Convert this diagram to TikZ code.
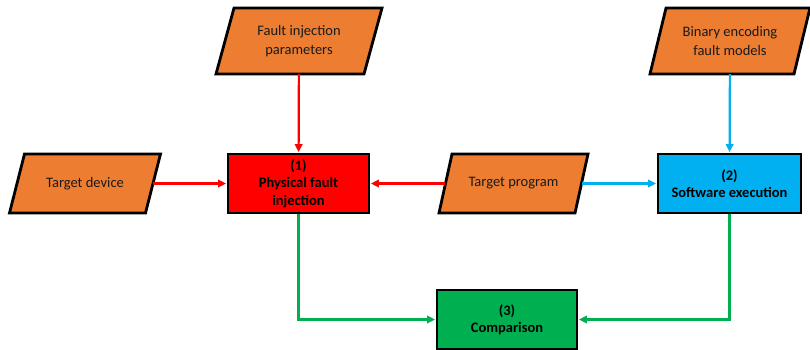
\documentclass[tikz,border=0pt]{standalone}
\usepackage{fontspec}
\setmainfont{Carlito}
\usetikzlibrary{arrows.meta}
\definecolor{orng}{HTML}{ED7D31}
\definecolor{redf}{HTML}{FF0000}
\definecolor{bluef}{HTML}{00B0F0}
\definecolor{greenf}{HTML}{00B050}
\definecolor{txt}{HTML}{1A1A1A}
\newcommand\parabox[7]{%
  \filldraw[paraline] (#2-#4/2+#6, #3-#5/2) -- ++(#4,0) -- (#2+#4/2-#6, #3+#5/2) -- ++(-#4,0) -- cycle;
  \node[paratext, minimum width=#4pt, minimum height=#5pt] (#1) at (#2,#3) {#7};
}
\begin{document}
\begin{tikzpicture}[x=1pt,y=-1pt,
  paraline/.style={fill=orng, draw=black, line width=2.8pt, line join=miter},
  paratext/.style={draw=none, inner sep=0pt, align=center, text=txt,
    font=\fontsize{14.5}{18.5}\selectfont},
  procbox/.style={draw=black, line width=2.8pt, inner sep=0pt, align=center,
    minimum width=141pt, minimum height=59pt, text=black,
    font=\bfseries\fontsize{14.5}{17.5}\selectfont},
  conn/.style={line width=2.2pt, -{Triangle[length=8pt,width=7.5pt]}, shorten >=0.5pt},
]
\useasboundingbox (0,0) rectangle (810,349);
\parabox{fip}{299}{41}{148}{66}{9}{Fault injection\\parameters}
\parabox{bef}{730}{41}{144}{66}{8}{Binary encoding\\fault models}
\parabox{td}{85}{183.5}{136}{59}{7.5}{Target device}
\parabox{tp}{513.5}{183.5}{136}{59}{6.5}{Target program}
\node[procbox, fill=redf] (phys) at (298.5,183.5) {(1)\\Physical fault\\injection};
\node[procbox, fill=bluef, minimum width=143pt] (sw) at (729.5,183.5) {(2)\\Software execution};
\node[procbox, fill=greenf, minimum width=140pt] (cmp) at (507,319.5) {(3)\\Comparison};
\draw[conn, draw=redf] (fip) -- (phys);
\draw[conn, draw=redf] (td) -- (phys);
\draw[conn, draw=redf] (tp) -- (phys);
\draw[conn, draw=bluef] (tp) -- (sw);
\draw[conn, draw=bluef] (bef) -- (sw);
\draw[conn, draw=greenf] (phys.south) |- (cmp.west);
\draw[conn, draw=greenf] (sw.south) |- (cmp.east);
\end{tikzpicture}
\end{document}
